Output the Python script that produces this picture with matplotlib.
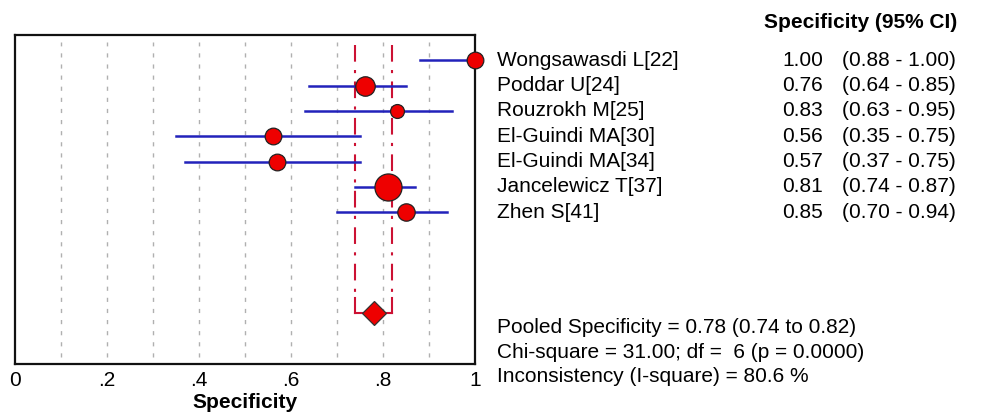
import matplotlib
matplotlib.use("Agg")
import matplotlib.pyplot as plt
from matplotlib.transforms import blended_transform_factory

studies = ["Wongsawasdi L[22]", "Poddar U[24]", "Rouzrokh M[25]", "El-Guindi MA[30]",
           "El-Guindi MA[34]", "Jancelewicz T[37]", "Zhen S[41]"]
spec = [1.00, 0.76, 0.83, 0.56, 0.57, 0.81, 0.85]
lo = [0.88, 0.64, 0.63, 0.35, 0.37, 0.74, 0.70]
hi = [1.00, 0.85, 0.95, 0.75, 0.75, 0.87, 0.94]
msize = [12, 14, 10, 12, 12, 19.5, 12.5]
pooled, pooled_lo, pooled_hi = 0.78, 0.74, 0.82
stats_lines = ["Pooled Specificity = 0.78 (0.74 to 0.82)",
               "Chi-square = 31.00; df =  6 (p = 0.0000)",
               "Inconsistency (I-square) = 80.6 %"]
xticks = [0, 0.2, 0.4, 0.6, 0.8, 1.0]
xticklabels = ["0", ".2", ".4", ".6", ".8", "1"]

FS = 15
plt.rcParams['font.family'] = ['Liberation Sans', 'DejaVu Sans']
fig = plt.figure(figsize=(9.81, 4.15), dpi=100)
ax = fig.add_axes([15/981, 1-364/415, 460/981, (364-35)/415])
ax.set_xlim(0, 1)
ax.set_ylim(12, -1)
pooled_y = 10

for g in [0.1*i for i in range(1, 10)]:
    ax.axvline(g, color='#b0b0b0', lw=1, ls=(0, (3, 5)), ymin=0.02, ymax=0.98, zorder=1)

# pooled CI dashed lines
red = '#cc1133'
for v in (pooled_lo, pooled_hi):
    ax.plot([v, v], [-0.6, pooled_y - 0.6], color=red, lw=1.5, ls=(0, (8, 4, 1.5, 4)), zorder=2)
    ax.plot([v, v], [pooled_y - 0.6, pooled_y], color=red, lw=1.5, zorder=2)
ax.plot([pooled_lo, pooled_hi], [pooled_y, pooled_y], color=red, lw=1.5, zorder=2)

ys = list(range(len(studies)))
for y, s, l, h, m in zip(ys, spec, lo, hi, msize):
    ax.plot([l, h], [y, y], color='#2222bb', lw=1.8, zorder=3)
    ax.plot([s], [y], marker='o', ms=m, mfc='#ee0000', mec='#222222', mew=0.9, zorder=4, clip_on=False)

ax.plot([pooled], [pooled_y], marker='D', ms=12, mfc='#ee0000', mec='#333333', mew=0.9, zorder=5)

ax.set_yticks([])
ax.set_xticks(xticks)
ax.set_xticklabels(xticklabels, fontsize=FS)
ax.tick_params(axis='x', length=0, pad=5)
ax.set_xlabel("Specificity", fontsize=FS, fontweight='bold', labelpad=2)
for sp in ax.spines.values():
    sp.set_linewidth(1.6)
    sp.set_color('#111111')

tr = blended_transform_factory(fig.transFigure, ax.transData)
for y, name, s, l, h in zip(ys, studies, spec, lo, hi):
    ax.text(497/981, y, name, transform=tr, fontsize=FS, va='center', ha='left')
    ax.text(823/981, y, f"{s:.2f}", transform=tr, fontsize=FS, va='center', ha='right')
    ax.text(842/981, y, f"({l:.2f} - {h:.2f})", transform=tr, fontsize=FS, va='center', ha='left')

fig.text(861/981, 1-22/415, "Specificity (95% CI)", fontsize=FS, fontweight='bold', ha='center', va='center')
for i, line in enumerate(stats_lines):
    fig.text(497/981, 1-(327 + 25*i)/415, line, fontsize=FS, ha='left', va='center')

fig.savefig("out.png", dpi=100, facecolor='white')
